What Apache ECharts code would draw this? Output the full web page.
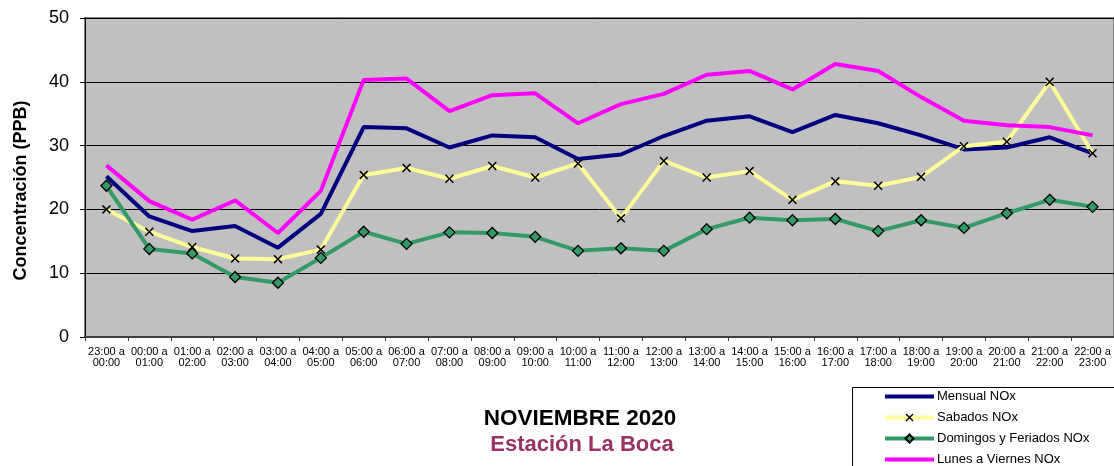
<!DOCTYPE html>
<html><head><meta charset="utf-8">
<script src="https://cdn.jsdelivr.net/npm/echarts@6/dist/echarts.min.js"></script>
<style>html,body{margin:0;padding:0;background:#fff}#c{width:1114px;height:466px}</style>
</head><body><div id="c"></div>
<script>
const categories = ["23:00 a\n00:00","00:00 a\n01:00","01:00 a\n02:00","02:00 a\n03:00","03:00 a\n04:00","04:00 a\n05:00","05:00 a\n06:00","06:00 a\n07:00","07:00 a\n08:00","08:00 a\n09:00","09:00 a\n10:00","10:00 a\n11:00","11:00 a\n12:00","12:00 a\n13:00","13:00 a\n14:00","14:00 a\n15:00","15:00 a\n16:00","16:00 a\n17:00","17:00 a\n18:00","18:00 a\n19:00","19:00 a\n20:00","20:00 a\n21:00","21:00 a\n22:00","22:00 a\n23:00"];
const mensual = [25.2,18.9,16.6,17.4,14.0,19.3,32.9,32.7,29.7,31.6,31.3,27.9,28.6,31.5,33.9,34.6,32.1,34.8,33.5,31.6,29.4,29.7,31.3,28.8];
const sabados = [20.0,16.5,14.1,12.3,12.2,13.7,25.4,26.5,24.8,26.8,25.0,27.2,18.6,27.6,25.0,26.0,21.5,24.4,23.7,25.1,29.9,30.6,40.0,28.8];
const domingos = [23.7,13.8,13.1,9.4,8.5,12.4,16.5,14.6,16.4,16.3,15.7,13.5,13.9,13.5,16.9,18.7,18.3,18.5,16.6,18.3,17.1,19.4,21.5,20.4];
const lunesViernes = [26.9,21.3,18.4,21.4,16.3,22.9,40.3,40.5,35.4,37.9,38.2,33.5,36.5,38.1,41.1,41.7,38.8,42.8,41.7,37.6,33.9,33.2,32.9,31.6];
const seriesNames = ["Mensual NOx","Sabados NOx","Domingos y Feriados NOx","Lunes a Viernes NOx"];
const yTicks = {min:0, max:50, interval:10};

const F = "Liberation Sans, Arial, sans-serif";
const xPath = 'path://M0,1.2L1.2,0L5,3.8L8.8,0L10,1.2L6.2,5L10,8.8L8.8,10L5,6.2L1.2,10L0,8.8L3.8,5Z';
const chart = echarts.init(document.getElementById('c'), null, {renderer:'canvas'});
chart.setOption({
  animation:false,
  backgroundColor:'#fff',
  title:[
    {text:'NOVIEMBRE 2020', left:575, top:402, textAlign:'center', textStyle:{fontFamily:F, fontSize:22.5, fontWeight:'bold', color:'#000'}},
    {text:'Estación La Boca', left:577, top:429, textAlign:'center', textStyle:{fontFamily:F, fontSize:22, fontWeight:'bold', color:'#993366'}}
  ],
  graphic:[
    {type:'rect', z:1, silent:true, shape:{x:852.5, y:387.5, width:300, height:120}, style:{fill:'#fff', stroke:'#000', lineWidth:1}}
  ],
  legend:{
    orient:'vertical', left:883, top:390, z:5,
    padding:0, itemGap:8, itemWidth:49, itemHeight:10,
    lineStyle:{width:'inherit'},
    textStyle:{fontFamily:F, fontSize:13, color:'#000', padding:[0,0,0,-2]},
    data:seriesNames
  },
  grid:{left:85, right:0, top:18, bottom:129, show:true, backgroundColor:'#C0C0C0', borderColor:'#808080', borderWidth:2, containLabel:false},
  xAxis:{
    type:'category', data:categories, boundaryGap:true,
    axisLine:{lineStyle:{color:'#404040', width:2}},
    axisTick:{show:true, length:4, lineStyle:{color:'#404040'}},
    axisLabel:{interval:0, fontFamily:F, fontSize:11, color:'#000', lineHeight:11, margin:9}
  },
  yAxis:{
    type:'value', min:yTicks.min, max:yTicks.max, interval:yTicks.interval,
    name:'Concentración (PPB)', nameLocation:'middle', nameGap:55,
    nameTextStyle:{fontFamily:F, fontSize:18, fontWeight:'bold', color:'#000', padding:[0,26,0,0]},
    axisLine:{show:true, lineStyle:{color:'#000', width:1}},
    axisTick:{show:true, length:5, lineStyle:{color:'#000'}},
    axisLabel:{fontFamily:F, fontSize:18, color:'#000', margin:16},
    splitLine:{lineStyle:{color:'#000', width:1}}
  },
  series:[
    {name:seriesNames[0], type:'line', data:mensual, symbol:'none', lineStyle:{color:'#000080', width:4}, itemStyle:{color:'rgba(0,0,0,0)'}},
    {name:seriesNames[1], type:'line', data:sabados, symbol:xPath, symbolSize:9, lineStyle:{color:'#FFFF99', width:4}, itemStyle:{color:'#000'}},
    {name:seriesNames[2], type:'line', data:domingos, symbol:'diamond', symbolSize:11, lineStyle:{color:'#339966', width:4}, itemStyle:{color:'#339966', borderColor:'#000', borderWidth:1.3}},
    {name:seriesNames[3], type:'line', data:lunesViernes, symbol:'none', lineStyle:{color:'#FF00FF', width:4}, itemStyle:{color:'rgba(0,0,0,0)'}}
  ]
});
</script></body></html>
